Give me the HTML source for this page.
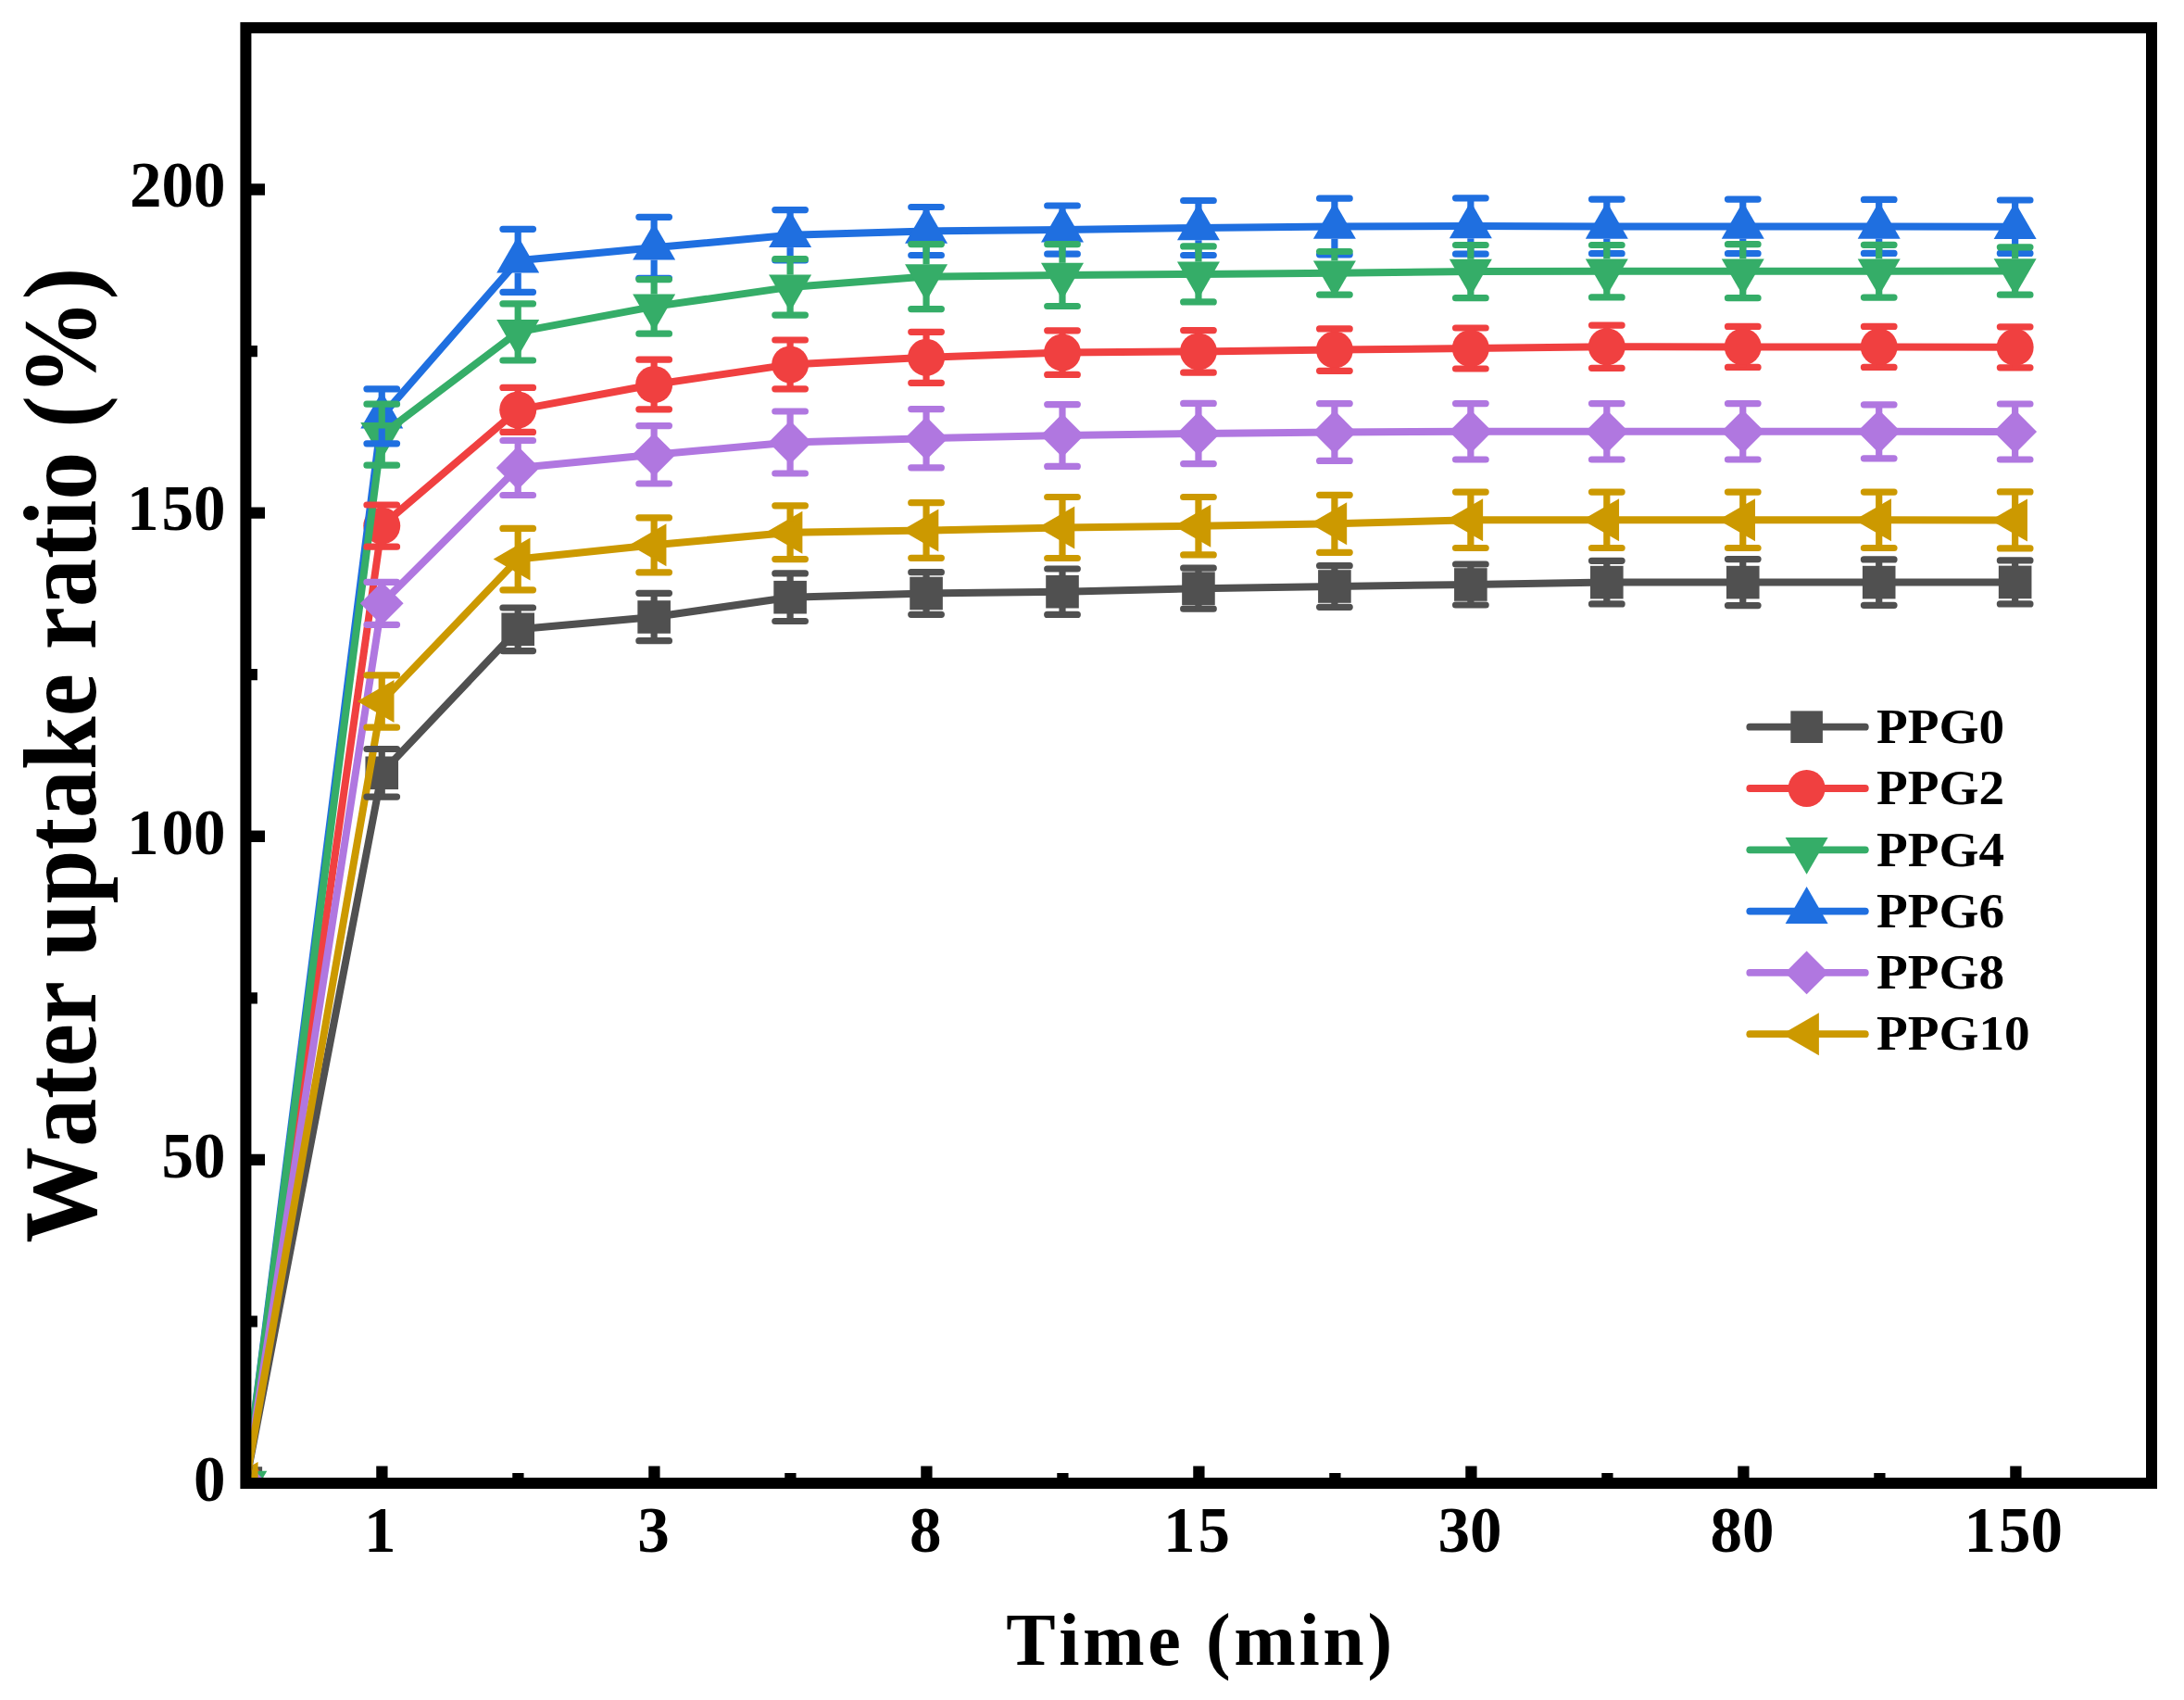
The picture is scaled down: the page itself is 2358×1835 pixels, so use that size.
<!DOCTYPE html>
<html lang="en"><head><meta charset="utf-8"><title>Water uptake ratio</title>
<style>html,body{margin:0;padding:0;background:#fff;}body{width:2358px;height:1835px;overflow:hidden;}svg{display:block;}text{font-family:"Liberation Serif","Times New Roman",Times,serif;font-weight:bold;fill:#000;font-kerning:none;}</style>
</head><body>
<svg width="2358" height="1835" viewBox="0 0 2358 1835">
<rect x="0" y="0" width="2358" height="1835" fill="#ffffff"/>
<defs><clipPath id="plot"><rect x="265.4" y="30.0" width="2057.6" height="1571.0"/></clipPath></defs>
<g clip-path="url(#plot)">
<rect x="247.50" y="1583.20" width="35.6" height="35.6" fill="#505050"/>
<circle cx="265.30" cy="1601.00" r="20" fill="#f04040"/>
<polygon points="265.30,1574.44 288.30,1614.28 242.30,1614.28" fill="#1f6fe0"/>
<polygon points="265.30,1627.56 288.30,1587.72 242.30,1587.72" fill="#35ad68"/>
<polygon points="241.90,1601.00 265.30,1577.60 288.70,1601.00 265.30,1624.40" fill="#b077e0"/>
<polygon points="238.74,1601.00 278.58,1578.00 278.58,1624.00" fill="#cc9900"/>
<polyline fill="none" stroke="#505050" stroke-width="8.0" stroke-linejoin="round" points="265.30,1601.00 412.25,834.30 559.20,679.30 706.15,666.00 853.10,644.70 1000.05,640.50 1147.00,638.70 1293.95,635.20 1440.90,633.00 1587.85,631.00 1734.80,628.60 1881.75,628.60 2028.70,628.60 2175.65,628.40"/>
<rect x="394.45" y="816.50" width="35.6" height="35.6" fill="#505050"/>
<rect x="541.40" y="661.50" width="35.6" height="35.6" fill="#505050"/>
<rect x="688.35" y="648.20" width="35.6" height="35.6" fill="#505050"/>
<rect x="835.30" y="626.90" width="35.6" height="35.6" fill="#505050"/>
<rect x="982.25" y="622.70" width="35.6" height="35.6" fill="#505050"/>
<rect x="1129.20" y="620.90" width="35.6" height="35.6" fill="#505050"/>
<rect x="1276.15" y="617.40" width="35.6" height="35.6" fill="#505050"/>
<rect x="1423.10" y="615.20" width="35.6" height="35.6" fill="#505050"/>
<rect x="1570.05" y="613.20" width="35.6" height="35.6" fill="#505050"/>
<rect x="1717.00" y="610.80" width="35.6" height="35.6" fill="#505050"/>
<rect x="1863.95" y="610.80" width="35.6" height="35.6" fill="#505050"/>
<rect x="2010.90" y="610.80" width="35.6" height="35.6" fill="#505050"/>
<rect x="2157.85" y="610.60" width="35.6" height="35.6" fill="#505050"/>
<polyline fill="none" stroke="#f04040" stroke-width="8.0" stroke-linejoin="round" points="265.30,1601.00 412.25,567.60 559.20,442.40 706.15,415.00 853.10,393.40 1000.05,385.80 1147.00,380.60 1293.95,379.40 1440.90,377.60 1587.85,376.00 1734.80,374.20 1881.75,374.40 2028.70,374.40 2175.65,374.80"/>
<circle cx="412.25" cy="567.60" r="20" fill="#f04040"/>
<circle cx="559.20" cy="442.40" r="20" fill="#f04040"/>
<circle cx="706.15" cy="415.00" r="20" fill="#f04040"/>
<circle cx="853.10" cy="393.40" r="20" fill="#f04040"/>
<circle cx="1000.05" cy="385.80" r="20" fill="#f04040"/>
<circle cx="1147.00" cy="380.60" r="20" fill="#f04040"/>
<circle cx="1293.95" cy="379.40" r="20" fill="#f04040"/>
<circle cx="1440.90" cy="377.60" r="20" fill="#f04040"/>
<circle cx="1587.85" cy="376.00" r="20" fill="#f04040"/>
<circle cx="1734.80" cy="374.20" r="20" fill="#f04040"/>
<circle cx="1881.75" cy="374.40" r="20" fill="#f04040"/>
<circle cx="2028.70" cy="374.40" r="20" fill="#f04040"/>
<circle cx="2175.65" cy="374.80" r="20" fill="#f04040"/>
<polyline fill="none" stroke="#1f6fe0" stroke-width="8.0" stroke-linejoin="round" points="265.30,1601.00 412.25,449.30 559.20,281.30 706.15,267.30 853.10,253.80 1000.05,249.50 1147.00,248.10 1293.95,246.00 1440.90,244.50 1587.85,244.00 1734.80,244.40 1881.75,244.40 2028.70,244.40 2175.65,244.70"/>
<polygon points="412.25,422.74 435.25,462.58 389.25,462.58" fill="#1f6fe0"/>
<polygon points="559.20,254.74 582.20,294.58 536.20,294.58" fill="#1f6fe0"/>
<polygon points="706.15,240.74 729.15,280.58 683.15,280.58" fill="#1f6fe0"/>
<polygon points="853.10,227.24 876.10,267.08 830.10,267.08" fill="#1f6fe0"/>
<polygon points="1000.05,222.94 1023.05,262.78 977.05,262.78" fill="#1f6fe0"/>
<polygon points="1147.00,221.54 1170.00,261.38 1124.00,261.38" fill="#1f6fe0"/>
<polygon points="1293.95,219.44 1316.95,259.28 1270.95,259.28" fill="#1f6fe0"/>
<polygon points="1440.90,217.94 1463.90,257.78 1417.90,257.78" fill="#1f6fe0"/>
<polygon points="1587.85,217.44 1610.85,257.28 1564.85,257.28" fill="#1f6fe0"/>
<polygon points="1734.80,217.84 1757.80,257.68 1711.80,257.68" fill="#1f6fe0"/>
<polygon points="1881.75,217.84 1904.75,257.68 1858.75,257.68" fill="#1f6fe0"/>
<polygon points="2028.70,217.84 2051.70,257.68 2005.70,257.68" fill="#1f6fe0"/>
<polygon points="2175.65,218.14 2198.65,257.98 2152.65,257.98" fill="#1f6fe0"/>
<polyline fill="none" stroke="#35ad68" stroke-width="8.0" stroke-linejoin="round" points="265.30,1601.00 412.25,469.20 559.20,358.40 706.15,330.90 853.10,309.90 1000.05,298.60 1147.00,297.10 1293.95,295.90 1440.90,294.80 1587.85,293.10 1734.80,292.70 1881.75,292.70 2028.70,292.70 2175.65,292.50"/>
<polygon points="412.25,495.76 435.25,455.92 389.25,455.92" fill="#35ad68"/>
<polygon points="559.20,384.96 582.20,345.12 536.20,345.12" fill="#35ad68"/>
<polygon points="706.15,357.46 729.15,317.62 683.15,317.62" fill="#35ad68"/>
<polygon points="853.10,336.46 876.10,296.62 830.10,296.62" fill="#35ad68"/>
<polygon points="1000.05,325.16 1023.05,285.32 977.05,285.32" fill="#35ad68"/>
<polygon points="1147.00,323.66 1170.00,283.82 1124.00,283.82" fill="#35ad68"/>
<polygon points="1293.95,322.46 1316.95,282.62 1270.95,282.62" fill="#35ad68"/>
<polygon points="1440.90,321.36 1463.90,281.52 1417.90,281.52" fill="#35ad68"/>
<polygon points="1587.85,319.66 1610.85,279.82 1564.85,279.82" fill="#35ad68"/>
<polygon points="1734.80,319.26 1757.80,279.42 1711.80,279.42" fill="#35ad68"/>
<polygon points="1881.75,319.26 1904.75,279.42 1858.75,279.42" fill="#35ad68"/>
<polygon points="2028.70,319.26 2051.70,279.42 2005.70,279.42" fill="#35ad68"/>
<polygon points="2175.65,319.06 2198.65,279.22 2152.65,279.22" fill="#35ad68"/>
<polyline fill="none" stroke="#b077e0" stroke-width="8.0" stroke-linejoin="round" points="265.30,1601.00 412.25,651.30 559.20,505.00 706.15,490.80 853.10,477.50 1000.05,473.20 1147.00,470.00 1293.95,468.00 1440.90,466.50 1587.85,465.80 1734.80,465.80 1881.75,465.80 2028.70,465.80 2175.65,466.00"/>
<polygon points="388.85,651.30 412.25,627.90 435.65,651.30 412.25,674.70" fill="#b077e0"/>
<polygon points="535.80,505.00 559.20,481.60 582.60,505.00 559.20,528.40" fill="#b077e0"/>
<polygon points="682.75,490.80 706.15,467.40 729.55,490.80 706.15,514.20" fill="#b077e0"/>
<polygon points="829.70,477.50 853.10,454.10 876.50,477.50 853.10,500.90" fill="#b077e0"/>
<polygon points="976.65,473.20 1000.05,449.80 1023.45,473.20 1000.05,496.60" fill="#b077e0"/>
<polygon points="1123.60,470.00 1147.00,446.60 1170.40,470.00 1147.00,493.40" fill="#b077e0"/>
<polygon points="1270.55,468.00 1293.95,444.60 1317.35,468.00 1293.95,491.40" fill="#b077e0"/>
<polygon points="1417.50,466.50 1440.90,443.10 1464.30,466.50 1440.90,489.90" fill="#b077e0"/>
<polygon points="1564.45,465.80 1587.85,442.40 1611.25,465.80 1587.85,489.20" fill="#b077e0"/>
<polygon points="1711.40,465.80 1734.80,442.40 1758.20,465.80 1734.80,489.20" fill="#b077e0"/>
<polygon points="1858.35,465.80 1881.75,442.40 1905.15,465.80 1881.75,489.20" fill="#b077e0"/>
<polygon points="2005.30,465.80 2028.70,442.40 2052.10,465.80 2028.70,489.20" fill="#b077e0"/>
<polygon points="2152.25,466.00 2175.65,442.60 2199.05,466.00 2175.65,489.40" fill="#b077e0"/>
<polyline fill="none" stroke="#cc9900" stroke-width="8.0" stroke-linejoin="round" points="265.30,1601.00 412.25,757.00 559.20,603.60 706.15,588.30 853.10,574.70 1000.05,572.50 1147.00,569.50 1293.95,567.70 1440.90,565.30 1587.85,561.30 1734.80,561.30 1881.75,561.30 2028.70,561.30 2175.65,561.40"/>
<polygon points="385.69,757.00 425.53,734.00 425.53,780.00" fill="#cc9900"/>
<polygon points="532.64,603.60 572.48,580.60 572.48,626.60" fill="#cc9900"/>
<polygon points="679.59,588.30 719.43,565.30 719.43,611.30" fill="#cc9900"/>
<polygon points="826.54,574.70 866.38,551.70 866.38,597.70" fill="#cc9900"/>
<polygon points="973.49,572.50 1013.33,549.50 1013.33,595.50" fill="#cc9900"/>
<polygon points="1120.44,569.50 1160.28,546.50 1160.28,592.50" fill="#cc9900"/>
<polygon points="1267.39,567.70 1307.23,544.70 1307.23,590.70" fill="#cc9900"/>
<polygon points="1414.34,565.30 1454.18,542.30 1454.18,588.30" fill="#cc9900"/>
<polygon points="1561.29,561.30 1601.13,538.30 1601.13,584.30" fill="#cc9900"/>
<polygon points="1708.24,561.30 1748.08,538.30 1748.08,584.30" fill="#cc9900"/>
<polygon points="1855.19,561.30 1895.03,538.30 1895.03,584.30" fill="#cc9900"/>
<polygon points="2002.14,561.30 2041.98,538.30 2041.98,584.30" fill="#cc9900"/>
<polygon points="2149.09,561.40 2188.93,538.40 2188.93,584.40" fill="#cc9900"/>
<g stroke="#505050" stroke-width="7.2" stroke-linecap="round" fill="none"><path d="M395.95 808.50H428.55M395.95 860.10H428.55" /><path stroke-linecap="butt" d="M412.25 808.50V817.30"/><path stroke-linecap="butt" d="M412.25 851.30V860.10"/><path d="M542.90 656.00H575.50M542.90 702.60H575.50" /><path stroke-linecap="butt" d="M559.20 656.00V662.30"/><path stroke-linecap="butt" d="M559.20 696.30V702.60"/><path d="M689.85 640.30H722.45M689.85 691.70H722.45" /><path stroke-linecap="butt" d="M706.15 640.30V649.00"/><path stroke-linecap="butt" d="M706.15 683.00V691.70"/><path d="M836.80 618.90H869.40M836.80 670.50H869.40" /><path stroke-linecap="butt" d="M853.10 618.90V627.70"/><path stroke-linecap="butt" d="M853.10 661.70V670.50"/><path d="M983.75 617.70H1016.35M983.75 663.30H1016.35" /><path stroke-linecap="butt" d="M1000.05 617.70V623.50"/><path stroke-linecap="butt" d="M1000.05 657.50V663.30"/><path d="M1130.70 614.00H1163.30M1130.70 663.40H1163.30" /><path stroke-linecap="butt" d="M1147.00 614.00V621.70"/><path stroke-linecap="butt" d="M1147.00 655.70V663.40"/><path d="M1277.65 613.20H1310.25M1277.65 657.20H1310.25" /><path stroke-linecap="butt" d="M1293.95 613.20V618.20"/><path stroke-linecap="butt" d="M1293.95 652.20V657.20"/><path d="M1424.60 610.70H1457.20M1424.60 655.30H1457.20" /><path stroke-linecap="butt" d="M1440.90 610.70V616.00"/><path stroke-linecap="butt" d="M1440.90 650.00V655.30"/><path d="M1571.55 609.00H1604.15M1571.55 653.00H1604.15" /><path stroke-linecap="butt" d="M1587.85 609.00V614.00"/><path stroke-linecap="butt" d="M1587.85 648.00V653.00"/><path d="M1718.50 605.30H1751.10M1718.50 651.90H1751.10" /><path stroke-linecap="butt" d="M1734.80 605.30V611.60"/><path stroke-linecap="butt" d="M1734.80 645.60V651.90"/><path d="M1865.45 603.60H1898.05M1865.45 653.60H1898.05" /><path stroke-linecap="butt" d="M1881.75 603.60V611.60"/><path stroke-linecap="butt" d="M1881.75 645.60V653.60"/><path d="M2012.40 603.90H2045.00M2012.40 653.30H2045.00" /><path stroke-linecap="butt" d="M2028.70 603.90V611.60"/><path stroke-linecap="butt" d="M2028.70 645.60V653.30"/><path d="M2159.35 604.90H2191.95M2159.35 651.90H2191.95" /><path stroke-linecap="butt" d="M2175.65 604.90V611.40"/><path stroke-linecap="butt" d="M2175.65 645.40V651.90"/></g>
<g stroke="#f04040" stroke-width="7.2" stroke-linecap="round" fill="none"><path d="M395.95 545.00H428.55M395.95 590.20H428.55" /><path stroke-linecap="butt" d="M412.25 545.00V548.60"/><path stroke-linecap="butt" d="M412.25 586.60V590.20"/><path d="M542.90 418.40H575.50M542.90 466.40H575.50" /><path stroke-linecap="butt" d="M559.20 418.40V423.40"/><path stroke-linecap="butt" d="M559.20 461.40V466.40"/><path d="M689.85 388.20H722.45M689.85 441.80H722.45" /><path stroke-linecap="butt" d="M706.15 388.20V396.00"/><path stroke-linecap="butt" d="M706.15 434.00V441.80"/><path d="M836.80 367.00H869.40M836.80 419.80H869.40" /><path stroke-linecap="butt" d="M853.10 367.00V374.40"/><path stroke-linecap="butt" d="M853.10 412.40V419.80"/><path d="M983.75 358.30H1016.35M983.75 413.30H1016.35" /><path stroke-linecap="butt" d="M1000.05 358.30V366.80"/><path stroke-linecap="butt" d="M1000.05 404.80V413.30"/><path d="M1130.70 356.80H1163.30M1130.70 404.40H1163.30" /><path stroke-linecap="butt" d="M1147.00 356.80V361.60"/><path stroke-linecap="butt" d="M1147.00 399.60V404.40"/><path d="M1277.65 356.60H1310.25M1277.65 402.20H1310.25" /><path stroke-linecap="butt" d="M1293.95 356.60V360.40"/><path stroke-linecap="butt" d="M1293.95 398.40V402.20"/><path d="M1424.60 354.90H1457.20M1424.60 400.30H1457.20" /><path stroke-linecap="butt" d="M1440.90 354.90V358.60"/><path stroke-linecap="butt" d="M1440.90 396.60V400.30"/><path d="M1571.55 354.00H1604.15M1571.55 398.00H1604.15" /><path stroke-linecap="butt" d="M1587.85 354.00V357.00"/><path stroke-linecap="butt" d="M1587.85 395.00V398.00"/><path d="M1718.50 351.10H1751.10M1718.50 397.30H1751.10" /><path stroke-linecap="butt" d="M1734.80 351.10V355.20"/><path stroke-linecap="butt" d="M1734.80 393.20V397.30"/><path d="M1865.45 352.40H1898.05M1865.45 396.40H1898.05" /><path stroke-linecap="butt" d="M1881.75 352.40V355.40"/><path stroke-linecap="butt" d="M1881.75 393.40V396.40"/><path d="M2012.40 352.40H2045.00M2012.40 396.40H2045.00" /><path stroke-linecap="butt" d="M2028.70 352.40V355.40"/><path stroke-linecap="butt" d="M2028.70 393.40V396.40"/><path d="M2159.35 352.80H2191.95M2159.35 396.80H2191.95" /><path stroke-linecap="butt" d="M2175.65 352.80V355.80"/><path stroke-linecap="butt" d="M2175.65 393.80V396.80"/></g>
<g stroke="#1f6fe0" stroke-width="7.2" stroke-linecap="round" fill="none"><path d="M395.95 419.80H428.55M395.95 478.80H428.55" /><path stroke-linecap="butt" d="M412.25 419.80V430.74"/><path stroke-linecap="butt" d="M412.25 462.58V478.80"/><path d="M542.90 247.30H575.50M542.90 315.30H575.50" /><path stroke-linecap="butt" d="M559.20 247.30V262.74"/><path stroke-linecap="butt" d="M559.20 294.58V315.30"/><path d="M689.85 234.30H722.45M689.85 300.30H722.45" /><path stroke-linecap="butt" d="M706.15 234.30V248.74"/><path stroke-linecap="butt" d="M706.15 280.58V300.30"/><path d="M836.80 226.60H869.40M836.80 281.00H869.40" /><path stroke-linecap="butt" d="M853.10 226.60V235.24"/><path stroke-linecap="butt" d="M853.10 267.08V281.00"/><path d="M983.75 223.50H1016.35M983.75 275.50H1016.35" /><path stroke-linecap="butt" d="M1000.05 223.50V230.94"/><path stroke-linecap="butt" d="M1000.05 262.78V275.50"/><path d="M1130.70 222.00H1163.30M1130.70 274.20H1163.30" /><path stroke-linecap="butt" d="M1147.00 222.00V229.54"/><path stroke-linecap="butt" d="M1147.00 261.38V274.20"/><path d="M1277.65 216.50H1310.25M1277.65 275.50H1310.25" /><path stroke-linecap="butt" d="M1293.95 216.50V227.44"/><path stroke-linecap="butt" d="M1293.95 259.28V275.50"/><path d="M1424.60 214.20H1457.20M1424.60 274.80H1457.20" /><path stroke-linecap="butt" d="M1440.90 214.20V225.94"/><path stroke-linecap="butt" d="M1440.90 257.78V274.80"/><path d="M1571.55 213.80H1604.15M1571.55 274.20H1604.15" /><path stroke-linecap="butt" d="M1587.85 213.80V225.44"/><path stroke-linecap="butt" d="M1587.85 257.28V274.20"/><path d="M1718.50 215.10H1751.10M1718.50 273.70H1751.10" /><path stroke-linecap="butt" d="M1734.80 215.10V225.84"/><path stroke-linecap="butt" d="M1734.80 257.68V273.70"/><path d="M1865.45 215.10H1898.05M1865.45 273.70H1898.05" /><path stroke-linecap="butt" d="M1881.75 215.10V225.84"/><path stroke-linecap="butt" d="M1881.75 257.68V273.70"/><path d="M2012.40 215.40H2045.00M2012.40 273.40H2045.00" /><path stroke-linecap="butt" d="M2028.70 215.40V225.84"/><path stroke-linecap="butt" d="M2028.70 257.68V273.40"/><path d="M2159.35 216.00H2191.95M2159.35 273.40H2191.95" /><path stroke-linecap="butt" d="M2175.65 216.00V226.14"/><path stroke-linecap="butt" d="M2175.65 257.98V273.40"/></g>
<g stroke="#35ad68" stroke-width="7.2" stroke-linecap="round" fill="none"><path d="M395.95 436.20H428.55M395.95 502.20H428.55" /><path stroke-linecap="butt" d="M412.25 436.20V455.92"/><path stroke-linecap="butt" d="M412.25 487.76V502.20"/><path d="M542.90 327.80H575.50M542.90 389.00H575.50" /><path stroke-linecap="butt" d="M559.20 327.80V345.12"/><path stroke-linecap="butt" d="M559.20 376.96V389.00"/><path d="M689.85 301.60H722.45M689.85 360.20H722.45" /><path stroke-linecap="butt" d="M706.15 301.60V317.62"/><path stroke-linecap="butt" d="M706.15 349.46V360.20"/><path d="M836.80 279.70H869.40M836.80 340.10H869.40" /><path stroke-linecap="butt" d="M853.10 279.70V296.62"/><path stroke-linecap="butt" d="M853.10 328.46V340.10"/><path d="M983.75 263.60H1016.35M983.75 333.60H1016.35" /><path stroke-linecap="butt" d="M1000.05 263.60V285.32"/><path stroke-linecap="butt" d="M1000.05 317.16V333.60"/><path d="M1130.70 263.70H1163.30M1130.70 330.50H1163.30" /><path stroke-linecap="butt" d="M1147.00 263.70V283.82"/><path stroke-linecap="butt" d="M1147.00 315.66V330.50"/><path d="M1277.65 265.90H1310.25M1277.65 325.90H1310.25" /><path stroke-linecap="butt" d="M1293.95 265.90V282.62"/><path stroke-linecap="butt" d="M1293.95 314.46V325.90"/><path d="M1424.60 271.50H1457.20M1424.60 318.10H1457.20" /><path stroke-linecap="butt" d="M1440.90 271.50V281.52"/><path stroke-linecap="butt" d="M1440.90 313.36V318.10"/><path d="M1571.55 264.50H1604.15M1571.55 321.70H1604.15" /><path stroke-linecap="butt" d="M1587.85 264.50V279.82"/><path stroke-linecap="butt" d="M1587.85 311.66V321.70"/><path d="M1718.50 264.50H1751.10M1718.50 320.90H1751.10" /><path stroke-linecap="butt" d="M1734.80 264.50V279.42"/><path stroke-linecap="butt" d="M1734.80 311.26V320.90"/><path d="M1865.45 263.70H1898.05M1865.45 321.70H1898.05" /><path stroke-linecap="butt" d="M1881.75 263.70V279.42"/><path stroke-linecap="butt" d="M1881.75 311.26V321.70"/><path d="M2012.40 264.30H2045.00M2012.40 321.10H2045.00" /><path stroke-linecap="butt" d="M2028.70 264.30V279.42"/><path stroke-linecap="butt" d="M2028.70 311.26V321.10"/><path d="M2159.35 266.80H2191.95M2159.35 318.20H2191.95" /><path stroke-linecap="butt" d="M2175.65 266.80V279.22"/><path stroke-linecap="butt" d="M2175.65 311.06V318.20"/></g>
<g stroke="#b077e0" stroke-width="7.2" stroke-linecap="round" fill="none"><path d="M395.95 628.30H428.55M395.95 674.30H428.55" /><path stroke-linecap="butt" d="M412.25 628.30V633.30"/><path stroke-linecap="butt" d="M412.25 669.30V674.30"/><path d="M542.90 475.50H575.50M542.90 534.50H575.50" /><path stroke-linecap="butt" d="M559.20 475.50V487.00"/><path stroke-linecap="butt" d="M559.20 523.00V534.50"/><path d="M689.85 459.60H722.45M689.85 522.00H722.45" /><path stroke-linecap="butt" d="M706.15 459.60V472.80"/><path stroke-linecap="butt" d="M706.15 508.80V522.00"/><path d="M836.80 444.00H869.40M836.80 511.00H869.40" /><path stroke-linecap="butt" d="M853.10 444.00V459.50"/><path stroke-linecap="butt" d="M853.10 495.50V511.00"/><path d="M983.75 441.60H1016.35M983.75 504.80H1016.35" /><path stroke-linecap="butt" d="M1000.05 441.60V455.20"/><path stroke-linecap="butt" d="M1000.05 491.20V504.80"/><path d="M1130.70 436.60H1163.30M1130.70 503.40H1163.30" /><path stroke-linecap="butt" d="M1147.00 436.60V452.00"/><path stroke-linecap="butt" d="M1147.00 488.00V503.40"/><path d="M1277.65 435.40H1310.25M1277.65 500.60H1310.25" /><path stroke-linecap="butt" d="M1293.95 435.40V450.00"/><path stroke-linecap="butt" d="M1293.95 486.00V500.60"/><path d="M1424.60 435.60H1457.20M1424.60 497.40H1457.20" /><path stroke-linecap="butt" d="M1440.90 435.60V448.50"/><path stroke-linecap="butt" d="M1440.90 484.50V497.40"/><path d="M1571.55 435.60H1604.15M1571.55 496.00H1604.15" /><path stroke-linecap="butt" d="M1587.85 435.60V447.80"/><path stroke-linecap="butt" d="M1587.85 483.80V496.00"/><path d="M1718.50 435.60H1751.10M1718.50 496.00H1751.10" /><path stroke-linecap="butt" d="M1734.80 435.60V447.80"/><path stroke-linecap="butt" d="M1734.80 483.80V496.00"/><path d="M1865.45 435.60H1898.05M1865.45 496.00H1898.05" /><path stroke-linecap="butt" d="M1881.75 435.60V447.80"/><path stroke-linecap="butt" d="M1881.75 483.80V496.00"/><path d="M2012.40 436.80H2045.00M2012.40 494.80H2045.00" /><path stroke-linecap="butt" d="M2028.70 436.80V447.80"/><path stroke-linecap="butt" d="M2028.70 483.80V494.80"/><path d="M2159.35 436.00H2191.95M2159.35 496.00H2191.95" /><path stroke-linecap="butt" d="M2175.65 436.00V448.00"/><path stroke-linecap="butt" d="M2175.65 484.00V496.00"/></g>
<g stroke="#cc9900" stroke-width="7.2" stroke-linecap="round" fill="none"><path d="M395.95 728.80H428.55M395.95 785.20H428.55" /><path stroke-linecap="butt" d="M412.25 728.80V745.00"/><path stroke-linecap="butt" d="M412.25 769.00V785.20"/><path d="M542.90 570.40H575.50M542.90 636.80H575.50" /><path stroke-linecap="butt" d="M559.20 570.40V591.60"/><path stroke-linecap="butt" d="M559.20 615.60V636.80"/><path d="M689.85 558.80H722.45M689.85 617.80H722.45" /><path stroke-linecap="butt" d="M706.15 558.80V576.30"/><path stroke-linecap="butt" d="M706.15 600.30V617.80"/><path d="M836.80 545.80H869.40M836.80 603.60H869.40" /><path stroke-linecap="butt" d="M853.10 545.80V562.70"/><path stroke-linecap="butt" d="M853.10 586.70V603.60"/><path d="M983.75 542.70H1016.35M983.75 602.30H1016.35" /><path stroke-linecap="butt" d="M1000.05 542.70V560.50"/><path stroke-linecap="butt" d="M1000.05 584.50V602.30"/><path d="M1130.70 536.50H1163.30M1130.70 602.50H1163.30" /><path stroke-linecap="butt" d="M1147.00 536.50V557.50"/><path stroke-linecap="butt" d="M1147.00 581.50V602.50"/><path d="M1277.65 536.50H1310.25M1277.65 598.90H1310.25" /><path stroke-linecap="butt" d="M1293.95 536.50V555.70"/><path stroke-linecap="butt" d="M1293.95 579.70V598.90"/><path d="M1424.60 534.30H1457.20M1424.60 596.30H1457.20" /><path stroke-linecap="butt" d="M1440.90 534.30V553.30"/><path stroke-linecap="butt" d="M1440.90 577.30V596.30"/><path d="M1571.55 531.10H1604.15M1571.55 591.50H1604.15" /><path stroke-linecap="butt" d="M1587.85 531.10V549.30"/><path stroke-linecap="butt" d="M1587.85 573.30V591.50"/><path d="M1718.50 531.10H1751.10M1718.50 591.50H1751.10" /><path stroke-linecap="butt" d="M1734.80 531.10V549.30"/><path stroke-linecap="butt" d="M1734.80 573.30V591.50"/><path d="M1865.45 531.10H1898.05M1865.45 591.50H1898.05" /><path stroke-linecap="butt" d="M1881.75 531.10V549.30"/><path stroke-linecap="butt" d="M1881.75 573.30V591.50"/><path d="M2012.40 531.10H2045.00M2012.40 591.50H2045.00" /><path stroke-linecap="butt" d="M2028.70 531.10V549.30"/><path stroke-linecap="butt" d="M2028.70 573.30V591.50"/><path d="M2159.35 530.90H2191.95M2159.35 591.90H2191.95" /><path stroke-linecap="butt" d="M2175.65 530.90V549.40"/><path stroke-linecap="butt" d="M2175.65 573.40V591.90"/></g>
</g>
<rect x="265.4" y="30.0" width="2057.6" height="1571.0" fill="none" stroke="#000" stroke-width="12"/>
<path d="M265.4 1251.88H286.0M265.4 902.75H286.0M265.4 553.62H286.0M265.4 204.50H286.0M265.4 1426.44H277.9M265.4 1077.31H277.9M265.4 728.19H277.9M265.4 379.06H277.9M412.40 1601.0V1582.4M706.40 1601.0V1582.4M1000.40 1601.0V1582.4M1294.40 1601.0V1582.4M1588.40 1601.0V1582.4M1882.40 1601.0V1582.4M2176.40 1601.0V1582.4M559.40 1601.0V1590.0M853.40 1601.0V1590.0M1147.40 1601.0V1590.0M1441.40 1601.0V1590.0M1735.40 1601.0V1590.0M2029.40 1601.0V1590.0" stroke="#000" stroke-width="12.3" fill="none"/>
<text x="243.4" y="1619.8" font-size="69" text-anchor="end">0</text>
<text x="243.4" y="1270.7" font-size="69" text-anchor="end">50</text>
<text x="243.4" y="921.5" dx="0 3" font-size="69" text-anchor="end">100</text>
<text x="243.4" y="572.4" dx="0 3" font-size="69" text-anchor="end">150</text>
<text x="243.4" y="223.3" font-size="69" text-anchor="end">200</text>
<text x="410.2" y="1674.8" font-size="69" text-anchor="middle">1</text>
<text x="705.4" y="1674.8" font-size="69" text-anchor="middle">3</text>
<text x="999.2" y="1674.8" font-size="69" text-anchor="middle">8</text>
<text x="1291.9" y="1674.8" dx="0 3" font-size="69" text-anchor="middle">15</text>
<text x="1587.0" y="1674.8" font-size="69" text-anchor="middle">30</text>
<text x="1880.9" y="1674.8" font-size="69" text-anchor="middle">80</text>
<text x="2173.7" y="1674.8" dx="0 3" font-size="69" text-anchor="middle">150</text>
<text transform="translate(1296.5 1796.7)" font-size="80" letter-spacing="3.6" text-anchor="middle">Time (min)</text>
<text transform="translate(102.6 815.2) rotate(-90) scale(1 1.08)" font-size="103.9" text-anchor="middle">Water uptake ratio (%)</text>
<line x1="1889.3" y1="784.70" x2="2013.8" y2="784.70" stroke="#505050" stroke-width="7.8" stroke-linecap="round"/>
<rect x="1933.30" y="767.40" width="34.6" height="34.6" fill="#505050"/>
<text transform="translate(2026 801.9) scale(1.062 1)" font-size="52">PPG0</text>
<line x1="1889.3" y1="851.00" x2="2013.8" y2="851.00" stroke="#f04040" stroke-width="7.8" stroke-linecap="round"/>
<circle cx="1950.60" cy="851.00" r="20" fill="#f04040"/>
<text transform="translate(2026 868.2) scale(1.062 1)" font-size="52">PPG2</text>
<line x1="1889.3" y1="917.30" x2="2013.8" y2="917.30" stroke="#35ad68" stroke-width="7.8" stroke-linecap="round"/>
<polygon points="1950.60,943.86 1973.60,904.02 1927.60,904.02" fill="#35ad68"/>
<text transform="translate(2026 934.5) scale(1.062 1)" font-size="52">PPG4</text>
<line x1="1889.3" y1="983.60" x2="2013.8" y2="983.60" stroke="#1f6fe0" stroke-width="7.8" stroke-linecap="round"/>
<polygon points="1950.60,957.04 1973.60,996.88 1927.60,996.88" fill="#1f6fe0"/>
<text transform="translate(2026 1000.8) scale(1.062 1)" font-size="52">PPG6</text>
<line x1="1889.3" y1="1049.90" x2="2013.8" y2="1049.90" stroke="#b077e0" stroke-width="7.8" stroke-linecap="round"/>
<polygon points="1927.20,1049.90 1950.60,1026.50 1974.00,1049.90 1950.60,1073.30" fill="#b077e0"/>
<text transform="translate(2026 1067.1) scale(1.062 1)" font-size="52">PPG8</text>
<line x1="1889.3" y1="1116.20" x2="2013.8" y2="1116.20" stroke="#cc9900" stroke-width="7.8" stroke-linecap="round"/>
<polygon points="1924.04,1116.20 1963.88,1093.20 1963.88,1139.20" fill="#cc9900"/>
<text transform="translate(2026 1133.4) scale(1.062 1)" font-size="52">PPG10</text>
</svg>
</body></html>
